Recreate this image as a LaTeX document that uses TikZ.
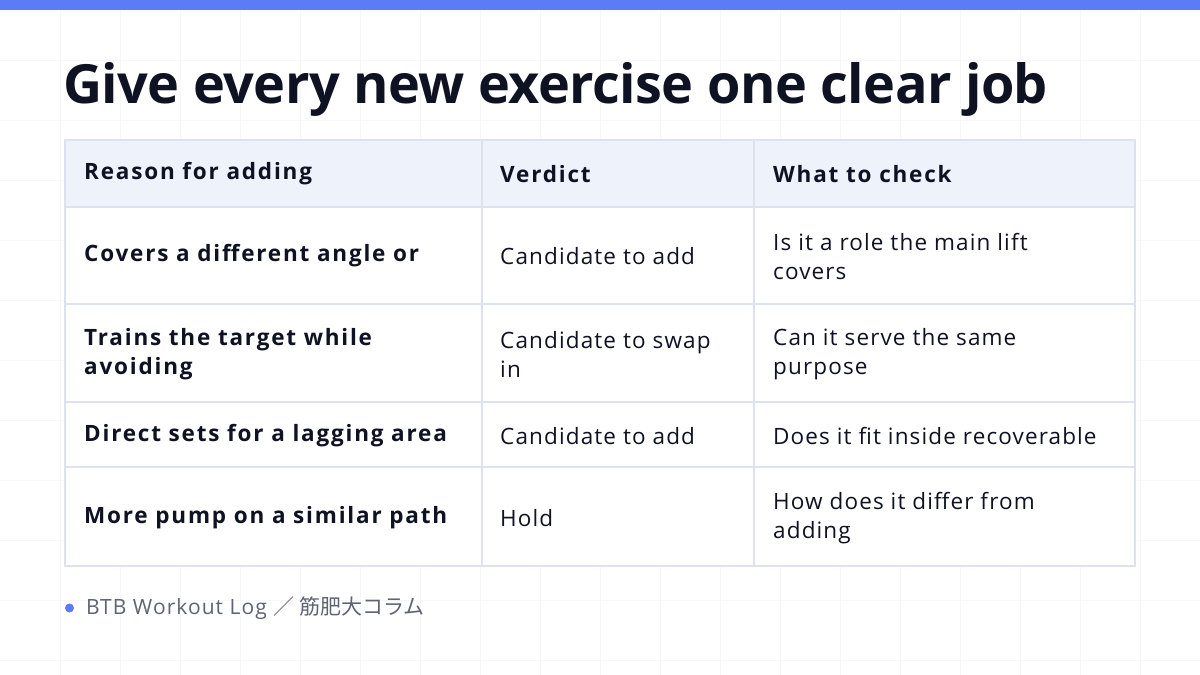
\documentclass[tikz,border=0pt]{standalone}
\usepackage{fontspec}
\setmainfont{Open Sans}[LetterSpace=5]
\newfontfamily\titlefont{Open Sans}[LetterSpace=-1]
\newfontfamily\boldcell{Open Sans}[LetterSpace=8]
\newfontfamily\cjk{Noto Sans CJK JP}
\definecolor{topbar}{HTML}{5B7CF6}
\definecolor{ink}{HTML}{0F1222}
\definecolor{gridc}{HTML}{F6F7F9}
\definecolor{bord}{HTML}{DDE2EE}
\definecolor{headf}{HTML}{EEF2FB}
\definecolor{foot}{HTML}{5F6472}
\begin{document}
\begin{tikzpicture}[x=1pt,y=-1pt,
  cell/.style={anchor=west,text=ink,font=\fontsize{22.5}{29}\selectfont,align=left,inner sep=0pt},
  hcell/.style={cell,font=\boldcell\fontsize{22.5}{29}\selectfont\bfseries}]
\useasboundingbox (0,0) rectangle (1200,675);
\fill[white] (0,0) rectangle (1200,675);
\foreach \i in {1,...,19} \draw[gridc,line width=0.8] (\i*60,10) -- (\i*60,675);
\foreach \j in {1,...,11} \draw[gridc,line width=0.8] (0,\j*60) -- (1200,\j*60);
\fill[topbar] (0,0) rectangle (1200,10);
\node[anchor=base west,inner sep=0pt,text=ink,font=\titlefont\fontsize{54}{60}\selectfont\bfseries] (title) at (63,103) {Give every new exercise one clear job};
\fill[headf] (65,140) rectangle (1135,207);
\fill[white] (65,207) rectangle (1135,566);
\draw[bord,line width=2] (65,140) rectangle (1135,566);
\foreach \y in {207,304,402,467} \draw[bord,line width=2] (65,\y) -- (1135,\y);
\foreach \x in {482,754} \draw[bord,line width=2] (\x,140) -- (\x,566);
% header
\node[hcell] (h1) at (84,174) {Reason for adding};
\node[hcell] (h2) at (500,174) {Verdict};
\node[hcell] (h3) at (773,174) {What to check};
% rows
\node[hcell] (a1) at (84,256) {Covers a different angle or};
\node[cell] (b1) at (500,256) {Candidate to add};
\node[cell] (c1) at (773,256) {Is it a role the main lift\\covers};
\node[hcell] (a2) at (84,354) {Trains the target while\\avoiding};
\node[cell] (b2) at (500,354) {Candidate to swap\\in};
\node[cell] (c2) at (773,354) {Can it serve the same\\purpose};
\node[hcell] (a3) at (84,436) {Direct sets for a lagging area};
\node[cell] (b3) at (500,436) {Candidate to add};
\node[cell] (c3) at (773,436) {Does it fit inside recoverable};
\node[hcell] (a4) at (84,518) {More pump on a similar path};
\node[cell] (b4) at (500,518) {Hold};
\node[cell] (c4) at (773,518) {How does it differ from\\adding};
\fill[topbar] (69.5,608) circle (4.5);
\node[anchor=west,inner sep=0pt,text=foot,font=\fontsize{21}{24}\selectfont] (ft) at (86,608) {BTB Workout Log {\cjk ／ 筋肥大コラム}};
\end{tikzpicture}
\end{document}
